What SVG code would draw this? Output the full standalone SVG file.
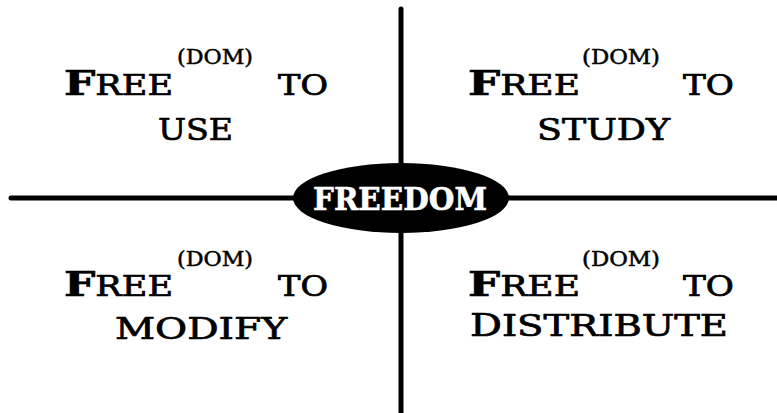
<svg xmlns="http://www.w3.org/2000/svg" width="777" height="413" viewBox="0 0 777 413">
<style>
.t{font-family:"DejaVu Serif","Liberation Serif",serif;fill:#000;stroke:#000;stroke-width:0.7px;}
.w1{font-size:27px;}
.big{font-size:34px;font-weight:bold;}
.sup{font-size:20px;stroke-width:0.5px;}
.w2{font-size:30px;}
.line{stroke:#000;stroke-width:5;stroke-linecap:round;fill:none;}
.hub{font-family:"DejaVu Serif","Liberation Serif",serif;font-size:31px;font-weight:bold;fill:#fff;stroke:#fff;stroke-width:0.6px;}
</style>
<rect width="777" height="413" fill="#fff"/>
<g id="connectors">
<line class="line" x1="401" y1="9" x2="401" y2="413"/>
<line class="line" x1="11" y1="198" x2="777" y2="198"/>
</g>
<g id="hub">
<ellipse cx="401" cy="198" rx="108" ry="35" fill="#000"/>
<text class="hub" x="400" y="210" text-anchor="middle" textLength="174" lengthAdjust="spacingAndGlyphs">FREEDOM</text>
</g>
<g id="use">
<text class="t w1" x="64" y="95" textLength="109" lengthAdjust="spacingAndGlyphs"><tspan class="big">F</tspan>REE</text>
<text class="t sup" x="177" y="64" textLength="76" lengthAdjust="spacingAndGlyphs">(DOM)</text>
<text class="t w1" x="278" y="95" textLength="50" lengthAdjust="spacingAndGlyphs">TO</text>
<text class="t w2" x="158" y="140" textLength="75" lengthAdjust="spacingAndGlyphs">USE</text>
</g>
<g id="study">
<text class="t w1" x="468" y="95" textLength="112" lengthAdjust="spacingAndGlyphs"><tspan class="big">F</tspan>REE</text>
<text class="t sup" x="582" y="64" textLength="78" lengthAdjust="spacingAndGlyphs">(DOM)</text>
<text class="t w1" x="683" y="95" textLength="51" lengthAdjust="spacingAndGlyphs">TO</text>
<text class="t w2" x="537" y="140" textLength="133" lengthAdjust="spacingAndGlyphs">STUDY</text>
</g>
<g id="modify">
<text class="t w1" x="64" y="296" textLength="109" lengthAdjust="spacingAndGlyphs"><tspan class="big">F</tspan>REE</text>
<text class="t sup" x="177" y="266" textLength="76" lengthAdjust="spacingAndGlyphs">(DOM)</text>
<text class="t w1" x="278" y="296" textLength="50" lengthAdjust="spacingAndGlyphs">TO</text>
<text class="t w2" x="115" y="339" textLength="172" lengthAdjust="spacingAndGlyphs">MODIFY</text>
</g>
<g id="distribute">
<text class="t w1" x="468" y="296" textLength="112" lengthAdjust="spacingAndGlyphs"><tspan class="big">F</tspan>REE</text>
<text class="t sup" x="582" y="266" textLength="78" lengthAdjust="spacingAndGlyphs">(DOM)</text>
<text class="t w1" x="683" y="296" textLength="51" lengthAdjust="spacingAndGlyphs">TO</text>
<text class="t w2" x="470" y="336" textLength="258" lengthAdjust="spacingAndGlyphs"><tspan class="big" style="font-weight:normal;font-size:31px">D</tspan>ISTRIBUTE</text>
</g>
</svg>
